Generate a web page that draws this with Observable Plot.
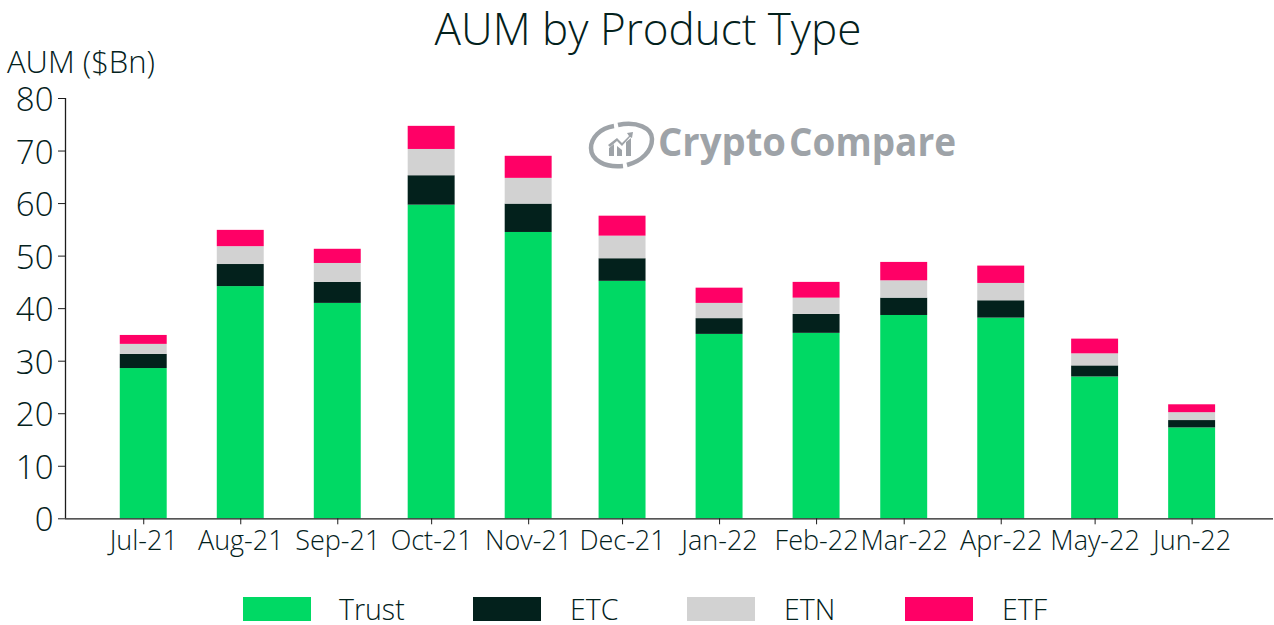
<!DOCTYPE html>
<html>
<head>
<meta charset="utf-8">
<script src="https://cdn.jsdelivr.net/npm/d3@7"></script>
<script src="https://cdn.jsdelivr.net/npm/@observablehq/plot@0.6"></script>
<style>
  html, body { margin: 0; padding: 0; background: #fff; }
  body { width: 1274px; height: 625px; overflow: hidden; position: relative;
         font-family: "Open Sans", sans-serif; font-weight: 300; color: #03211c; }
  #title { position: absolute; left: 0; width: 1296px; top: 0; text-align: center; font-size: 44px; line-height: 56px; font-weight: 300; }
  #ylabel { position: absolute; left: 7px; top: 41px; font-size: 31px; line-height: 40px; white-space: nowrap; }
  #chart { position: absolute; left: 0; top: 58px; }
  #legend { position: absolute; left: 0; top: 590px; width: 1274px; height: 35px; }
  #legend .sw { position: absolute; top: 7px; width: 68px; height: 24px; }
  #legend .lb { position: absolute; top: 0; font-size: 28.5px; line-height: 38px; }
  #mark { position: absolute; left: 585px; top: 108px; }
</style>
</head>
<body>
<div id="chart"></div>
<div id="title">AUM by Product Type</div>
<div id="ylabel">AUM ($Bn)</div>
<svg id="mark" width="380" height="76" viewBox="0 -10 380 76">
  <g fill="none" stroke="#9ea3a8" stroke-width="4.5">
    <path d="M29 8 C15 10 6 20 6 30 C6 42 20 50 38 48"/>
    <path d="M33 7 C52 3 67 10 67 21 C67 33 57 43 42 47"/>
  </g>
  <g fill="#9ea3a8">
    <path d="M24 38 V30 L29 26 V38 Z M32 38 V28 L37 32 V38 Z M41 38 V24 L46 20 V38 Z"/>
    <path d="M23 27 L32 20 L37 25 L44 18 L42 15 L48 14 L47 20 L45 19 L37 28 L32 23 L25 29 Z"/>
  </g>
  <text x="73" y="38" font-family="Open Sans" font-weight="700" font-size="39" fill="#9ea3a8" textLength="128" lengthAdjust="spacingAndGlyphs">Crypto</text>
  <text x="204" y="38" font-family="Open Sans" font-weight="700" font-size="39" fill="#9ea3a8" textLength="167" lengthAdjust="spacingAndGlyphs">Compare</text>
</svg>
<div id="legend"></div>
<script>
const months = ["2021-07-01","2021-08-01","2021-09-01","2021-10-01","2021-11-01","2021-12-01","2022-01-01","2022-02-01","2022-03-01","2022-04-01","2022-05-01","2022-06-01"];
const trust = [28.6,44.2,41.0,59.7,54.5,45.2,35.1,35.3,38.7,38.2,27.0,17.3];
const etc   = [2.7,4.2,4.0,5.6,5.4,4.3,3.0,3.6,3.3,3.3,2.1,1.4];
const etn   = [1.9,3.4,3.6,5.0,4.9,4.3,2.9,3.1,3.3,3.3,2.3,1.5];
const etf   = [1.7,3.1,2.7,4.4,4.2,3.8,2.9,3.0,3.5,3.3,2.8,1.5];
const seriesNames = ["Trust","ETC","ETN","ETF"];
const seriesValues = [trust, etc, etn, etf];
const seriesColors = ["#00d964","#03211c","#d2d2d2","#ff0066"];
const legendSwatchLeft = [243,473,687,905];
const legendLabelLeft = [339,570,784,1002];
const yTicks = [0,10,20,30,40,50,60,70,80];

const dates = months.map(d => new Date(d + "T00:00:00Z"));
const day = 864e5;
const rows = seriesNames.flatMap((name, s) =>
  dates.map((date, i) => ({date, series: name, value: seriesValues[s][i],
    start: new Date(+date - 7.5 * day), end: new Date(+date + 7.5 * day)})));

const text = "#03211c", axisInk = "#1c1c1c";
const font = {fontFamily: "Open Sans", fontWeight: 300};

const plot = Plot.plot({
  width: 1274, height: 520,
  marginTop: 40, marginBottom: 59.7, marginLeft: 65, marginRight: 1,
  style: {background: "transparent", color: text, overflow: "visible", fontFamily: "Open Sans"},
  x: {type: "utc", domain: [new Date("2021-06-06T00:00:00Z"), new Date("2022-06-27T00:00:00Z")]},
  y: {domain: [0, 80]},
  color: {domain: seriesNames, range: seriesColors},
  marks: [
    Plot.rectY(rows, Plot.stackY({x1: "start", x2: "end", y: "value", fill: "series", z: "series", order: seriesNames})),
    Plot.ruleY([0], {stroke: axisInk, strokeWidth: 1.3}),
    Plot.ruleX([new Date("2021-06-06T00:00:00Z")], {y1: 0, y2: 80, stroke: axisInk, strokeWidth: 1.3}),
    Plot.axisY({ticks: yTicks, tickSize: 7, text: null, label: null, stroke: axisInk}),
    Plot.axisY({ticks: yTicks, tickSize: 0, tickPadding: 12, fontSize: 33, dy: 2, label: null, fill: text, ...font}),
    Plot.axisX({ticks: dates, tickFormat: d3.utcFormat("%b-%y"), tickSize: 6, tickPadding: 6, fontSize: 27, label: null, stroke: axisInk, fill: text, ...font})
  ]
});
document.getElementById("chart").appendChild(plot);

const legend = document.getElementById("legend");
seriesNames.forEach((name, i) => {
  const sw = document.createElement("div");
  sw.className = "sw"; sw.style.left = legendSwatchLeft[i] + "px"; sw.style.background = seriesColors[i];
  const lb = document.createElement("div");
  lb.className = "lb"; lb.style.left = legendLabelLeft[i] + "px"; lb.textContent = name;
  legend.append(sw, lb);
});
</script>
</body>
</html>
